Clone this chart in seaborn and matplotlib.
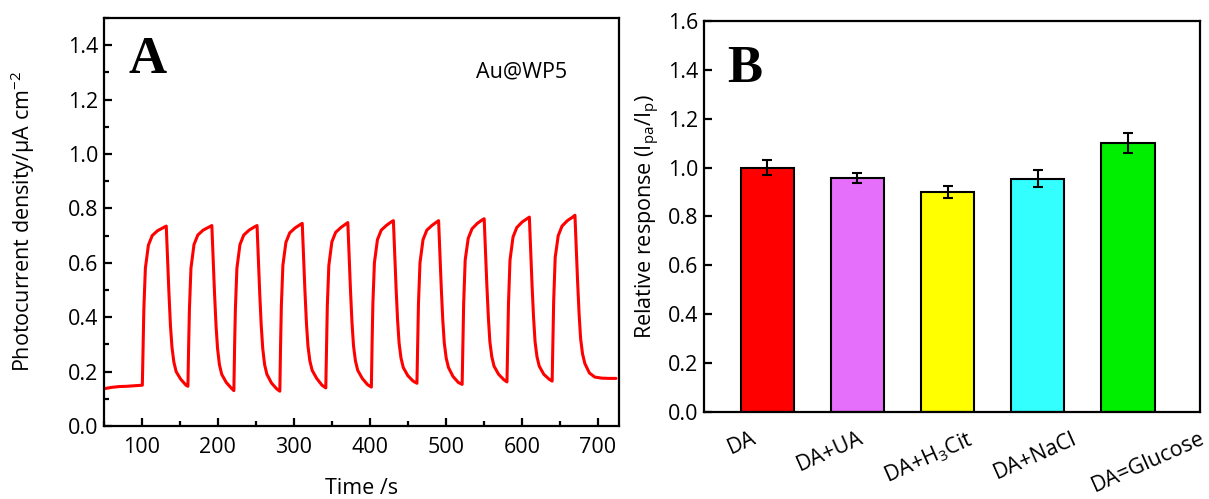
import matplotlib
matplotlib.use("Agg")
import matplotlib.pyplot as plt
import matplotlib.transforms as mtransforms
import numpy as np
import pandas as pd
import seaborn as sns
from matplotlib.ticker import MultipleLocator

# -------------------------
# Data
# -------------------------
# panel A: photocurrent trace, one row per light on/off cycle
time_s = [
    52, 60, 70, 80, 90, 99.5,
    100.5, 101.5, 102.5, 104.5, 108.5, 113.5, 120.5, 128.5, 132, 133.5, 135.5, 137.5, 139.5, 142, 145, 151, 158,
    160.5, 161.5, 162.5, 164.5, 168.5, 173.5, 180.5, 188.5, 192, 193.5, 195.5, 197.5, 199.5, 202, 205, 211, 218,
    221, 222, 223, 225, 229, 234, 241, 248, 251.5, 253, 255, 257, 259, 261.5, 264.5, 270.5, 277.5,
    281.5, 282.5, 283.5, 285.5, 289.5, 294.5, 301.5, 308, 311, 312.5, 314.5, 316.5, 318.5, 321, 324, 330, 337,
    342, 343, 344, 346, 350, 355, 362, 368, 371, 372.5, 374.5, 376.5, 378.5, 381, 384, 390, 397,
    402, 403, 404, 406, 410, 415, 422, 428, 431, 432.5, 434.5, 436.5, 438.5, 441, 444, 450, 457,
    462, 463, 464, 466, 470, 475, 482, 488, 490.5, 492, 494, 496, 498, 500.5, 503.5, 509.5, 516.5,
    521.5, 522.5, 523.5, 525.5, 529.5, 534.5, 541.5, 547.5, 550.5, 552, 554, 556, 558, 560.5, 563.5, 569.5, 576.5,
    580.5, 581.5, 582.5, 584.5, 588.5, 593.5, 600.5, 607, 610, 611.5, 613.5, 615.5, 617.5, 620, 623, 629, 636,
    640, 641, 642, 644, 648, 653, 660, 667, 670, 671.5, 673.5, 675.5, 677.5, 680, 683, 689, 696, 705, 715, 724,
]
photocurrent = [
    .138, .142, .145, .146, .148, .150,
    .150, .30, .43, .58, .665, .70, .718, .73, .735, .63, .49, .37, .29, .235, .20, .172, .150,
    .146, .30, .43, .58, .667, .702, .72, .732, .737, .63, .49, .37, .285, .225, .19, .16, .138,
    .130, .30, .43, .58, .667, .702, .72, .732, .737, .63, .49, .37, .285, .225, .19, .158, .136,
    .128, .30, .44, .59, .675, .71, .728, .74, .745, .64, .50, .38, .295, .24, .205, .175, .15,
    .140, .30, .44, .59, .677, .712, .73, .742, .748, .64, .50, .38, .295, .24, .205, .175, .152,
    .143, .31, .45, .60, .685, .72, .738, .75, .755, .65, .51, .39, .305, .25, .215, .185, .165,
    .157, .31, .45, .60, .685, .72, .738, .75, .755, .65, .51, .39, .305, .25, .215, .182, .16,
    .153, .31, .45, .61, .69, .725, .745, .757, .762, .66, .52, .40, .31, .255, .22, .19, .17,
    .162, .31, .45, .61, .695, .73, .75, .762, .768, .66, .52, .40, .31, .255, .22, .19, .172,
    .165, .31, .46, .62, .70, .735, .755, .768, .775, .67, .53, .41, .32, .265, .23, .195, .18, .176, .175, .175,
]

# panel B: interference test
categories = ["DA", "DA+UA", "DA+H$_3$Cit", "DA+NaCl", "DA=Glucose"]
responses = [1.00, 0.958, 0.90, 0.955, 1.10]
errors = [0.03, 0.02, 0.025, 0.035, 0.04]
bar_colors = ["#ff0000", "#e56ffa", "#ffff00", "#33ffff", "#00ee00"]

# -------------------------
# Style
# -------------------------
sns.set_style("ticks")
plt.rcParams["font.family"] = ["Open Sans", "DejaVu Sans"]
plt.rcParams["mathtext.fontset"] = "custom"
plt.rcParams["mathtext.rm"] = "Open Sans"
plt.rcParams["mathtext.it"] = "Open Sans"
plt.rcParams["axes.linewidth"] = 1.6
for key in ["axes.edgecolor", "axes.labelcolor", "text.color", "xtick.color", "ytick.color"]:
    plt.rcParams[key] = "black"
FS = 15.5

fig = plt.figure(figsize=(12.09, 4.99), dpi=100)
ax_a = fig.add_axes([0.086, 0.1463, 0.426, 0.8176])
ax_b = fig.add_axes([0.5823, 0.1743, 0.4103, 0.7837])

# -------------------------
# Panel A
# -------------------------
df_a = pd.DataFrame({"t": time_s, "j": photocurrent})
sns.lineplot(data=df_a, x="t", y="j", color="#ff0000", lw=2.2,
             estimator=None, sort=False, ax=ax_a)
ax_a.set_xlim(50, 728)
ax_a.set_ylim(0, 1.5)
ax_a.xaxis.set_major_locator(MultipleLocator(100))
ax_a.xaxis.set_minor_locator(MultipleLocator(50))
ax_a.yaxis.set_minor_locator(MultipleLocator(0.1))
ax_a.set_yticks(np.arange(0, 1.41, 0.2))
ax_a.set_yticklabels([f"{v:.1f}" for v in np.arange(0, 1.41, 0.2)])
ax_a.tick_params(which="both", direction="in", width=1.6, labelsize=FS)
ax_a.tick_params(which="major", length=6)
ax_a.tick_params(which="minor", length=3.5)
ax_a.tick_params(axis="x", pad=8)
ax_a.tick_params(axis="y", pad=4)
ax_a.set_xlabel("Time /s", fontsize=FS, labelpad=14)
ax_a.set_ylabel("Photocurrent density/μA cm$^{\\mathregular{-2}}$", fontsize=FS, labelpad=22)
ax_a.text(0.047, 0.865, "A", transform=ax_a.transAxes, fontsize=38,
          fontweight="bold", family="Liberation Serif", va="baseline", ha="left")
ax_a.text(0.81, 0.868, "Au@WP5", transform=ax_a.transAxes, fontsize=FS,
          va="center", ha="center")

# -------------------------
# Panel B
# -------------------------
df_b = pd.DataFrame({"cat": categories, "resp": responses})
sns.barplot(data=df_b, x="cat", y="resp", hue="cat", palette=bar_colors,
            saturation=1, legend=False, width=0.59, edgecolor="black",
            linewidth=1.5, errorbar=None, ax=ax_b)
ax_b.errorbar(np.arange(len(categories)), responses, yerr=errors, fmt="none",
              ecolor="black", elinewidth=1.5, capsize=3.5, capthick=1.5, zorder=5)
ax_b.set_xlim(-0.7, 4.8)
ax_b.set_ylim(0, 1.6)
ax_b.set_yticks(np.arange(0, 1.61, 0.2))
ax_b.set_yticklabels([f"{v:.1f}" for v in np.arange(0, 1.61, 0.2)])
ax_b.tick_params(which="both", direction="in", width=1.6, length=6, labelsize=FS)
ax_b.tick_params(axis="y", pad=4)
ax_b.tick_params(axis="x", pad=10)
# labels in the original sit a little off the bar centres
label_shift_px = [-25, -27, -19, -3, 20]
for lab, dx in zip(ax_b.get_xticklabels(), label_shift_px):
    lab.set_rotation(24)
    lab.set_ha("center")
    lab.set_transform(lab.get_transform() +
                      mtransforms.ScaledTranslation(dx / 100, -2 / 100, fig.dpi_scale_trans))
ax_b.set_xlabel("")
ax_b.set_ylabel("Relative response (I$_{\\mathregular{pa}}$/I$_{\\mathregular{p}}$)",
                fontsize=FS, labelpad=4)
ax_b.text(0.046, 0.844, "B", transform=ax_b.transAxes, fontsize=38,
          fontweight="bold", family="Liberation Serif", va="baseline", ha="left")

for ax in (ax_a, ax_b):
    for sp in ax.spines.values():
        sp.set_visible(True)
        sp.set_linewidth(1.6)
        sp.set_color("black")

fig.savefig("out.png", dpi=100)
